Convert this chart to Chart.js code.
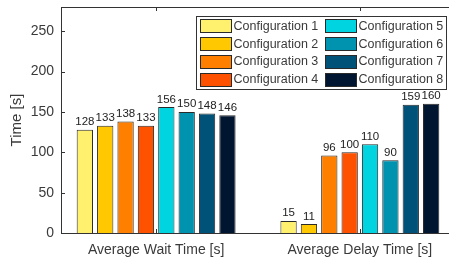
<!DOCTYPE html>
<html>
<head>
<meta charset="utf-8">
<script src="https://cdn.jsdelivr.net/npm/chart.js@4"></script>
<style>
  html, body { margin: 0; padding: 0; background: #fff; overflow: hidden; }
  #wrap { width: 470px; height: 264px; }
</style>
</head>
<body>
<div id="wrap"><canvas id="chart" width="470" height="264"></canvas></div>
<script>
// data
var categories = ['Average Wait Time [s]', 'Average Delay Time [s]'];
var configNames = ['Configuration 1', 'Configuration 2', 'Configuration 3', 'Configuration 4',
                   'Configuration 5', 'Configuration 6', 'Configuration 7', 'Configuration 8'];
var waitTimes  = [128, 133, 138, 133, 156, 150, 148, 146];
var delayTimes = [15, 11, 96, 100, 110, 90, 159, 160];
var yTicks = [0, 50, 100, 150, 200, 250];

var colors = ['#FFF06E', '#FFC800', '#FF8000', '#FF5200',
              '#00D4E0', '#0093B0', '#005279', '#00152F'];

var FONT = '"Liberation Sans", Arial, Helvetica, sans-serif';
var TEXT = '#3a3a3a';
var AXIS = '#333333';

var datasets = configNames.map(function (name, i) {
    return {
        label: name,
        data: [{x: 1, y: waitTimes[i]}, {x: 2, y: delayTimes[i]}],
        backgroundColor: colors[i],
        borderColor: '#2a2a2a',
        borderWidth: 1,
        categoryPercentage: 0.8,
        barPercentage: 0.8
    };
});

// box around the axes + inward tick marks
var framePlugin = {
    id: 'frame',
    afterDraw: function (chart) {
        var ctx = chart.ctx, a = chart.chartArea;
        var xs = chart.scales.x, ys = chart.scales.y;
        ctx.save();
        ctx.strokeStyle = AXIS;
        ctx.lineWidth = 1;
        ctx.strokeRect(Math.round(a.left) + 0.5, Math.round(a.top) + 0.5,
                       Math.round(a.right - a.left), Math.round(a.bottom - a.top));
        ctx.beginPath();
        yTicks.forEach(function (v) {
            var y = Math.round(ys.getPixelForValue(v)) + 0.5;
            ctx.moveTo(a.left, y); ctx.lineTo(a.left + 4, y);
            ctx.moveTo(a.right, y); ctx.lineTo(a.right - 4, y);
        });
        [1, 2].forEach(function (v) {
            var x = Math.round(xs.getPixelForValue(v)) + 0.5;
            ctx.moveTo(x, a.bottom); ctx.lineTo(x, a.bottom - 4);
            ctx.moveTo(x, a.top); ctx.lineTo(x, a.top + 4);
        });
        ctx.stroke();
        ctx.restore();
    }
};

// numbers over the bars
var valuePlugin = {
    id: 'values',
    afterDatasetsDraw: function (chart) {
        var ctx = chart.ctx;
        ctx.save();
        ctx.font = '11.5px ' + FONT;
        ctx.fillStyle = '#222';
        ctx.textAlign = 'center';
        ctx.textBaseline = 'bottom';
        chart.data.datasets.forEach(function (ds, i) {
            chart.getDatasetMeta(i).data.forEach(function (bar, j) {
                ctx.fillText(String(ds.data[j].y), bar.x, bar.y - 2);
            });
        });
        ctx.restore();
    }
};

// two column legend, column-major like matlab
var legendPlugin = {
    id: 'boxLegend',
    afterDraw: function (chart) {
        var ctx = chart.ctx;
        var bx = 196.5, by = 16.5, bw = 250, bh = 73;
        ctx.save();
        ctx.fillStyle = '#fff';
        ctx.fillRect(bx, by, bw, bh);
        ctx.strokeStyle = AXIS;
        ctx.lineWidth = 1;
        ctx.strokeRect(bx, by, bw, bh);
        ctx.font = '12.5px ' + FONT;
        ctx.textBaseline = 'middle';
        ctx.textAlign = 'left';
        chart.data.datasets.forEach(function (ds, i) {
            var col = Math.floor(i / 4), row = i % 4;
            var sx = col === 0 ? 200.5 : 325.5;
            var cy = 25.8 + row * 17.8;
            ctx.fillStyle = ds.backgroundColor;
            ctx.fillRect(sx, Math.round(cy - 6.5) + 0.5, 31, 13);
            ctx.strokeStyle = '#2a2a2a';
            ctx.strokeRect(sx, Math.round(cy - 6.5) + 0.5, 31, 13);
            ctx.fillStyle = TEXT;
            ctx.fillText(ds.label, sx + 33, cy + 0.5);
        });
        ctx.restore();
    }
};

new Chart(document.getElementById('chart'), {
    type: 'bar',
    data: { datasets: datasets },
    options: {
        responsive: false,
        animation: false,
        layout: { padding: { top: 7, right: 15, left: 0, bottom: 0 } },
        plugins: {
            legend: { display: false },
            tooltip: { enabled: false }
        },
        scales: {
            x: {
                type: 'linear',
                min: 0.533,
                max: 2.467,
                offset: false,
                grid: { display: false, drawTicks: false, offset: false },
                border: { display: false },
                afterBuildTicks: function (s) { s.ticks = [{value: 1}, {value: 2}]; },
                afterFit: function (s) { s.height = 31; s.paddingLeft = 0; s.paddingRight = 0; },
                ticks: {
                    padding: 9,
                    color: TEXT,
                    font: { family: FONT, size: 14 },
                    callback: function (v) { return categories[v - 1]; }
                }
            },
            y: {
                min: 0,
                max: 280,
                grid: { display: false, drawTicks: false },
                border: { display: false },
                afterBuildTicks: function (s) { s.ticks = yTicks.map(function (v) { return {value: v}; }); },
                afterFit: function (s) { s.width = 61; s.paddingTop = 0; s.paddingBottom = 0; },
                ticks: {
                    padding: 7,
                    color: TEXT,
                    font: { family: FONT, size: 14 }
                },
                title: {
                    display: true,
                    text: 'Time [s]',
                    color: TEXT,
                    font: { family: FONT, size: 15 },
                    padding: { top: 8, bottom: 0 }
                }
            }
        }
    },
    plugins: [framePlugin, valuePlugin, legendPlugin]
});
</script>
</body>
</html>
